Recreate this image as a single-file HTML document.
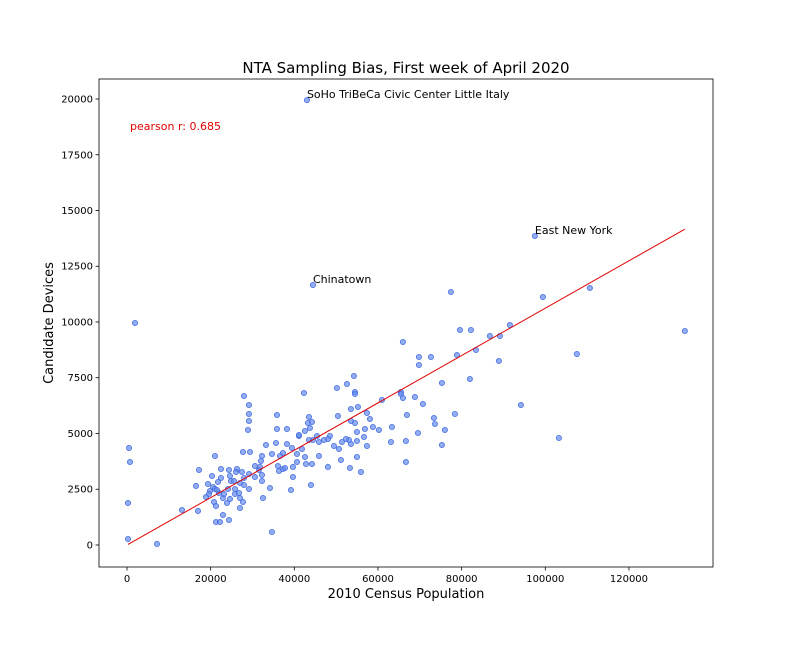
<!DOCTYPE html>
<html><head><meta charset="utf-8"><style>
html,body{margin:0;padding:0;background:#fff;}
svg{display:block;font-family:"DejaVu Sans","Liberation Sans",sans-serif;}
</style></head><body>
<svg id="chart" width="792" height="648" viewBox="0 0 792 648" xmlns="http://www.w3.org/2000/svg">
<rect width="792" height="648" fill="#fff"/>
<text x="406" y="73" font-size="15" text-anchor="middle">NTA Sampling Bias, First week of April 2020</text>
<text x="406" y="598" font-size="13" text-anchor="middle">2010 Census Population</text>
<text transform="translate(53,323) rotate(-90)" font-size="13" text-anchor="middle">Candidate Devices</text>
<g id="plot"></g>
</svg>
<script>
const popX = [27963,29158,29158,29158,28919,478,717,239,239,7170,13145,16969,21032,17208,16491,19359,20315,22466,22466,21749,20554,19837,21032,18881,19598,20793,21271,22944,21271,22227,24378,23900,22944,21988,21510,23183,24139,24617,25812,25812,26768,27007,27007,27724,24856,24617,24378,26290,26051,25573,27485,27007,27963,27963,29158,29158,30592,30592,31548,32265,32265,32504,31787,32026,32265,33221,34655,34177,34655,27724,29397,35850,35850,38240,35611,36089,36328,37284,37762,36567,37284,38240,39435,40630,40630,39674,39674,39196,41108,54253,52580,50190,42303,54492,54492,60945,55209,53536,57360,50429,58077,53536,54492,60228,58794,56882,54970,56643,57360,54970,53536,53058,52341,51385,49473,50668,48517,48039,47083,45888,45410,44454,43498,41108,42542,43737,43259,44215,43498,41825,42542,42781,44215,45888,48039,51146,53297,54970,55926,43976,77436,99424,110657,133362,79587,82216,91537,86757,89147,65964,69788,72656,69788,78870,83411,88908,107550,81977,75285,65486,65486,65964,68832,70744,94166,66920,73373,73612,78392,76002,63335,69549,63096,66681,75285,66681,103248,43020,97512,44454,1912];
const devicesY = [6681,6278,5874,5560,5157,4349,3722,1883,269,45,1569,1525,3991,3363,2646,2735,3094,3408,3004,2825,2601,2421,2511,2152,2287,1928,1749,1345,1031,1031,1121,1883,2107,2332,2466,2287,2511,2063,2287,2511,2332,2107,1659,1928,2870,3094,3363,3408,3273,2870,3273,2780,3004,2690,2511,3184,3049,3542,3363,3139,2870,2107,3498,3767,3991,4484,4080,2556,583,4170,4170,5829,5201,5201,4574,3542,3318,3408,3453,3991,4125,4529,4349,4080,3722,3498,3049,2466,4888,7578,7219,7040,6816,6861,6771,6502,6188,6098,5919,5784,5650,5560,5470,5157,5291,5201,5067,4843,4439,4663,4529,4708,4753,4619,4439,4305,4888,4753,4708,4619,4888,4708,4708,4932,5112,5246,5470,5515,5740,4305,3946,3632,3632,3991,3498,3811,3453,3946,3273,2690,11345,11120,11524,9596,9641,9641,9865,9372,9372,9103,8430,8430,8071,8520,8744,8251,8564,7443,7264,6861,6771,6591,6636,6322,6278,5829,5695,5426,5874,5157,5291,5022,4619,4663,4484,3722,4798,19950,13856,11658,9954];
const xTicks = [0,20000,40000,60000,80000,100000,120000];
const yTicks = [0,2500,5000,7500,10000,12500,15000,17500,20000];
const annotLabels = ["SoHo TriBeCa Civic Center Little Italy","East New York","Chinatown"];
const annotIndex = [177,178,179];
const pearsonText = ["pearson r: 0.685"];
const fitSlope = [0.1062];
const fitIntercept = [0];

const L=99,R=713,T=79,B=567;
const xmin=-6694,xmax=140090,ymin=-987,ymax=20897;
const sx=v=>L+(v-xmin)/(xmax-xmin)*(R-L);
const sy=v=>B-(v-ymin)/(ymax-ymin)*(B-T);
const NS="http://www.w3.org/2000/svg";
const g=document.getElementById('plot');
function mk(tag,attrs){const e=document.createElementNS(NS,tag);for(const k in attrs)e.setAttribute(k,attrs[k]);g.appendChild(e);return e;}

const frame=mk('rect',{x:L,y:T,width:R-L,height:B-T,fill:'none',stroke:'#000','stroke-width':0.8});



xTicks.forEach(v=>{
  const x=sx(v);
  const t=mk('line',{x1:x,x2:x,y1:B,y2:B+3.5,stroke:'#000','stroke-width':0.8});
  
  
  const l=mk('text',{x:x,y:B+15,'font-size':10,'text-anchor':'middle'});
  l.textContent=v;
  
  
});
yTicks.forEach(v=>{
  const y=sy(v);
  const t=mk('line',{x1:L-3.5,x2:L,y1:y,y2:y,stroke:'#000','stroke-width':0.8});
  
  
  const l=mk('text',{x:L-6,y:y+3.5,'font-size':10,'text-anchor':'end'});
  l.textContent=v;
  
  
});

popX.forEach((v,i)=>{
  const c=mk('circle',{cx:sx(v),cy:sy(devicesY[i]),r:2.6,fill:'rgba(100,140,235,0.7)',stroke:'rgba(65,105,225,0.85)','stroke-width':0.9});
  
  
});

const x0=Math.min(...popX), x1=Math.max(...popX);
const fit=mk('line',{x1:sx(x0),y1:sy(fitIntercept[0]+fitSlope[0]*x0),x2:sx(x1),y2:sy(fitIntercept[0]+fitSlope[0]*x1),stroke:'#e00000','stroke-width':1});



annotIndex.forEach((idx,k)=>{
  const a=mk('text',{x:sx(popX[idx]),y:sy(devicesY[idx])-2,'font-size':11});
  a.textContent=annotLabels[k];
  
  
});

const p=mk('text',{x:130,y:130,'font-size':11,fill:'#e00000'});
p.textContent=pearsonText[0];


</script>
</body></html>
